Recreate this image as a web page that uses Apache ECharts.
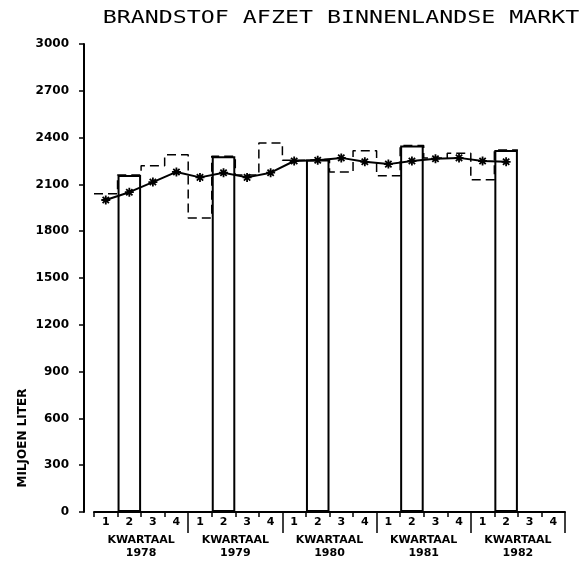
<!DOCTYPE html>
<html>
<head>
<meta charset="utf-8">
<script src="https://cdn.jsdelivr.net/npm/echarts@6/dist/echarts.min.js"></script>
<style>
  html, body { margin: 0; padding: 0; background: #fff; }
  #chart { width: 588px; height: 567px; }
</style>
</head>
<body>
<div id="chart"></div>
<script>
// jaren en kwartalen
var years = ['1978', '1979', '1980', '1981', '1982'];
var quarters = ['1', '2', '3', '4'];
// afzet per kwartaal (miljoen liter), 1978-1 t/m 1982-2
var sales = [2040, 2160, 2220, 2290, 1885, 2280, 2160, 2365, 2255, 2260, 2180, 2315, 2155, 2350, 2270, 2300, 2130, 2320];
// trend (voortschrijdend gemiddelde)
var trend = [2000, 2050, 2115, 2180, 2145, 2175, 2145, 2175, 2250, 2255, 2270, 2245, 2230, 2250, 2265, 2270, 2250, 2245];
var yTicks = { min: 0, max: 3000, step: 300 };

var black = '#000';
var font = 'DejaVu Sans';

// categorieen: 1978-1 .. 1982-4
var cats = [];
for (var y = 0; y < years.length; y++) {
	for (var q = 0; q < quarters.length; q++) {
		cats.push(years[y] + '-' + quarters[q]);
	}
}

// alleen het 2e kwartaal als volle staaf
var barData = [];
for (var i = 0; i < cats.length; i++) {
	barData.push(i < sales.length && i % 4 == 1 ? sales[i] : '-');
}

// gestreepte trap voor de overige kwartalen
var stepData = [];
for (var i = 0; i < sales.length; i++) {
	stepData.push([i, sales[i]]);
}
stepData.push([sales.length, sales[sales.length - 1]]);

var trendData = [];
for (var i = 0; i < trend.length; i++) {
	trendData.push([i + 0.5, trend[i]]);
}

var star = 'path://M4,0H6V10H4Z M0,4H10V6H0Z M0.8,2.2L2.2,0.8L9.2,7.8L7.8,9.2Z M7.8,0.8L9.2,2.2L2.2,9.2L0.8,7.8Z';

var chart = echarts.init(document.getElementById('chart'));
var option = {
	animation: false,
	backgroundColor: '#fff',
	grid: { left: 94, right: 23, top: 44, bottom: 55 },
	graphic: [
		{
			type: 'text', x: 341, y: 19, scaleX: 1.37,
			style: {
				text: 'BRANDSTOF AFZET BINNENLANDSE MARKT',
				font: '17px "DejaVu Sans Mono"', fill: black,
				align: 'center', verticalAlign: 'middle',
				textAlign: 'center', textVerticalAlign: 'middle'
			}
		},
		{
			type: 'text', x: 23, y: 438, rotation: Math.PI / 2,
			style: {
				text: 'MILJOEN LITER',
				font: 'bold 12px "DejaVu Sans"', fill: black,
				align: 'center', verticalAlign: 'middle',
				textAlign: 'center', textVerticalAlign: 'middle'
			}
		}
	],
	xAxis: [
		{ type: 'value', min: 0, max: cats.length, show: false },
		{
			type: 'category', data: cats, position: 'bottom',
			axisLine: { onZero: false, lineStyle: { color: black, width: 2 } },
			axisTick: { show: true, length: 5, lineStyle: { color: black, width: 1.5 } },
			axisLabel: {
				interval: 0, margin: 5, color: black, fontFamily: font,
				fontWeight: 'bold', fontSize: 11,
				formatter: function (v) { return v.split('-')[1]; }
			},
			splitLine: { show: false }
		},
		{
			type: 'category', data: years, position: 'bottom',
			axisLine: { show: false, onZero: false },
			axisTick: {
				show: true, length: 21, lineStyle: { color: black, width: 1.5 },
				interval: function (idx) { return idx != 0; }
			},
			axisLabel: {
				interval: 0, margin: 22, color: black, fontFamily: font,
				fontWeight: 'bold', fontSize: 11, lineHeight: 13,
				formatter: 'KWARTAAL\n{value}'
			},
			splitLine: { show: false }
		}
	],
	yAxis: {
		type: 'value', min: yTicks.min, max: yTicks.max, interval: yTicks.step,
		offset: 10,
		axisLine: { show: true, onZero: false, lineStyle: { color: black, width: 2 } },
		axisTick: { show: true, length: 5, lineStyle: { color: black, width: 1.5 } },
		axisLabel: {
			margin: 15, color: black, fontFamily: font, fontWeight: 'bold', fontSize: 12,
			formatter: function (v) { return String(v); }
		},
		splitLine: { show: false }
	},
	series: [
		{
			name: 'kwartaal', type: 'line', xAxisIndex: 0, step: 'end',
			data: stepData, symbol: 'none', z: 1,
			lineStyle: { color: black, width: 1.5, type: [9, 5] }
		},
		{
			name: 'tweede kwartaal', type: 'bar', xAxisIndex: 1, data: barData,
			barWidth: '100%', z: 2,
			itemStyle: { color: '#fff', borderColor: black, borderWidth: 2 }
		},
		{
			name: 'trend', type: 'line', xAxisIndex: 0, data: trendData, z: 3,
			symbol: star, symbolSize: 9,
			itemStyle: { color: black },
			lineStyle: { color: black, width: 2 }
		}
	]
};
chart.setOption(option);
</script>
</body>
</html>
